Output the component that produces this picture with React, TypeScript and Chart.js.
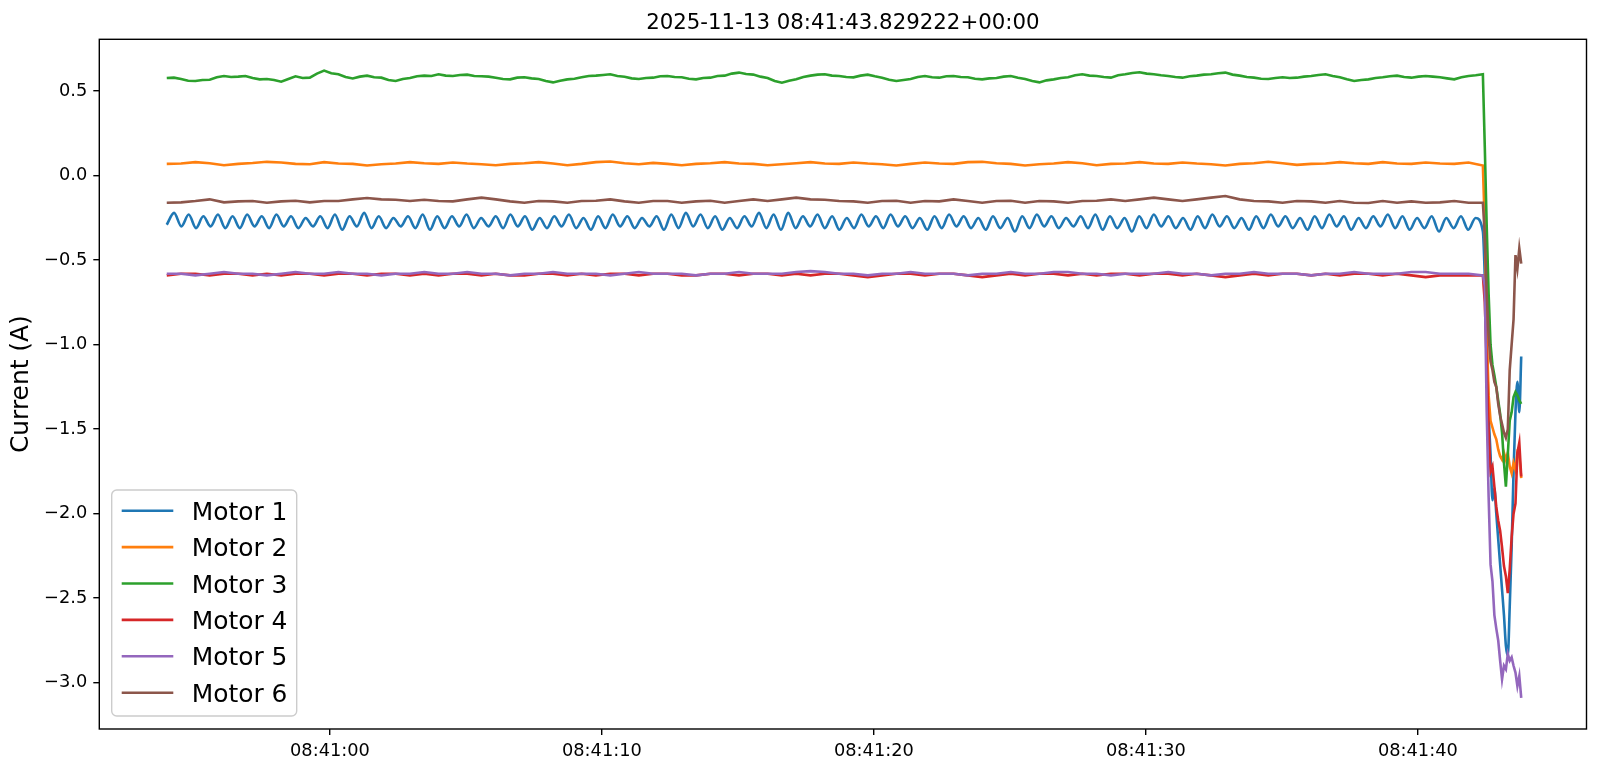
import React, { useEffect, useRef } from "react";
import { Chart, registerables } from "chart.js";

Chart.register(...registerables);

const TITLE = "2025-11-13 08:41:43.829222+00:00";
const Y_LABEL = "Current (A)";
const SERIES_NAMES = ["Motor 1", "Motor 2", "Motor 3", "Motor 4", "Motor 5", "Motor 6"];
const COLORS = ["#1f77b4", "#ff7f0e", "#2ca02c", "#d62728", "#9467bd", "#8c564b"];

// seconds after 08:40:00
const X_TICK_VALUES = [60, 70, 80, 90, 100];
const X_TICK_LABELS = ["08:41:00", "08:41:10", "08:41:20", "08:41:30", "08:41:40"];
const Y_TICK_VALUES = [-3.0, -2.5, -2.0, -1.5, -1.0, -0.5, 0.0, 0.5];
const X_MIN = 51.52;
const X_MAX = 106.2;
const Y_MIN = -3.274;
const Y_MAX = 0.807;

// sample clock: steady run from T_START until T_DROP, then the fast tail until T_END
const T_START = 54.0;
const T_DROP = 102.39;
const T_END = 103.8;

// Motor 1: alternating troughs / peaks of the oscillation
const motor1Steady = [
  -0.29, -0.22, -0.30, -0.23, -0.31, -0.24, -0.30, -0.23, -0.31, -0.24,
  -0.31, -0.23, -0.30, -0.24, -0.31, -0.23, -0.30, -0.24, -0.31, -0.25,
  -0.30, -0.24, -0.31, -0.23, -0.32, -0.24, -0.30, -0.22, -0.31, -0.24,
  -0.31, -0.25, -0.30, -0.24, -0.31, -0.23, -0.32, -0.24, -0.31, -0.24,
  -0.30, -0.23, -0.31, -0.25, -0.30, -0.24, -0.31, -0.23, -0.30, -0.24,
  -0.32, -0.25, -0.31, -0.24, -0.30, -0.23, -0.31, -0.25, -0.32, -0.24,
  -0.31, -0.23, -0.30, -0.24, -0.31, -0.25, -0.30, -0.24, -0.32, -0.23,
  -0.31, -0.22, -0.30, -0.23, -0.31, -0.24, -0.32, -0.25, -0.31, -0.24,
  -0.30, -0.22, -0.31, -0.23, -0.32, -0.22, -0.31, -0.24, -0.30, -0.23,
  -0.31, -0.24, -0.32, -0.25, -0.31, -0.23, -0.30, -0.24, -0.31, -0.23,
  -0.30, -0.24, -0.31, -0.25, -0.32, -0.24, -0.31, -0.23, -0.30, -0.24,
  -0.31, -0.25, -0.32, -0.24, -0.31, -0.25, -0.33, -0.24, -0.31, -0.23,
  -0.30, -0.24, -0.31, -0.25, -0.30, -0.24, -0.31, -0.23, -0.32, -0.24,
  -0.31, -0.25, -0.33, -0.24, -0.31, -0.23, -0.30, -0.24, -0.31, -0.25,
  -0.32, -0.24, -0.31, -0.23, -0.30, -0.24, -0.31, -0.25, -0.32, -0.24,
  -0.31, -0.23, -0.30, -0.24, -0.31, -0.25, -0.32, -0.24, -0.31, -0.23,
  -0.30, -0.24, -0.32, -0.25, -0.31, -0.24, -0.30, -0.23, -0.31, -0.24,
  -0.32, -0.25, -0.31, -0.24, -0.33, -0.25, -0.31, -0.24, -0.32, -0.25,
];
const motor1Tail = [
  -0.33, -0.60, -1.00, -1.40, -1.65, -1.92, -1.85, -2.00, -2.15, -2.30, -2.45,
  -2.60, -2.78, -2.84, -2.55, -2.20, -1.75, -1.40, -1.22, -1.40, -1.07,
];

const motor2Steady = [
  0.070, 0.072, 0.080, 0.074, 0.062, 0.070, 0.075, 0.082, 0.078, 0.070,
  0.068, 0.080, 0.072, 0.070, 0.060, 0.068, 0.072, 0.080, 0.074, 0.070,
  0.078, 0.072, 0.068, 0.062, 0.070, 0.074, 0.080, 0.072, 0.062, 0.070,
  0.080, 0.084, 0.074, 0.068, 0.076, 0.070, 0.062, 0.070, 0.074, 0.080,
  0.072, 0.070, 0.062, 0.068, 0.074, 0.080, 0.072, 0.070, 0.078, 0.072,
  0.068, 0.060, 0.070, 0.078, 0.072, 0.070, 0.080, 0.082, 0.074, 0.070,
  0.060, 0.068, 0.072, 0.080, 0.074, 0.062, 0.070, 0.072, 0.080, 0.072,
  0.070, 0.078, 0.072, 0.068, 0.060, 0.070, 0.074, 0.082, 0.074, 0.064,
  0.070, 0.072, 0.080, 0.074, 0.070, 0.080, 0.072, 0.070, 0.078, 0.072,
  0.070, 0.078,
];
const motor2Tail = [
  0.06, -0.30, -0.90, -1.30, -1.45, -1.49, -1.53, -1.56, -1.62, -1.66, -1.68,
  -1.64, -1.68, -1.64, -1.72, -1.76, -1.70, -1.74, -1.64, -1.66, -1.79,
];

const motor3Steady = [
  0.578, 0.580, 0.572, 0.562, 0.560, 0.566, 0.568, 0.582, 0.590, 0.584,
  0.586, 0.590, 0.578, 0.570, 0.572, 0.566, 0.556, 0.572, 0.588, 0.578,
  0.580, 0.604, 0.622, 0.606, 0.600, 0.584, 0.575, 0.586, 0.592, 0.582,
  0.580, 0.566, 0.560, 0.572, 0.578, 0.588, 0.592, 0.590, 0.600, 0.592,
  0.590, 0.596, 0.598, 0.590, 0.588, 0.586, 0.580, 0.572, 0.570, 0.580,
  0.582, 0.576, 0.572, 0.560, 0.552, 0.562, 0.570, 0.574, 0.582, 0.590,
  0.592, 0.596, 0.600, 0.590, 0.585, 0.576, 0.572, 0.578, 0.580, 0.588,
  0.590, 0.584, 0.582, 0.574, 0.570, 0.578, 0.580, 0.590, 0.592, 0.604,
  0.610, 0.602, 0.598, 0.586, 0.578, 0.560, 0.550, 0.562, 0.570, 0.584,
  0.592, 0.598, 0.600, 0.592, 0.590, 0.584, 0.582, 0.592, 0.598, 0.588,
  0.580, 0.568, 0.560, 0.566, 0.572, 0.584, 0.590, 0.582, 0.580, 0.588,
  0.590, 0.584, 0.582, 0.574, 0.570, 0.576, 0.578, 0.586, 0.590, 0.580,
  0.572, 0.560, 0.552, 0.564, 0.570, 0.578, 0.582, 0.594, 0.600, 0.592,
  0.590, 0.584, 0.580, 0.594, 0.600, 0.608, 0.612, 0.604, 0.600, 0.594,
  0.590, 0.584, 0.580, 0.588, 0.592, 0.598, 0.600, 0.606, 0.610, 0.598,
  0.592, 0.584, 0.580, 0.574, 0.572, 0.578, 0.582, 0.578, 0.580, 0.586,
  0.590, 0.596, 0.600, 0.590, 0.582, 0.570, 0.560, 0.566, 0.570, 0.578,
  0.582, 0.588, 0.592, 0.584, 0.580, 0.586, 0.590, 0.586, 0.582, 0.576,
  0.570, 0.582, 0.590, 0.594,
];
const motor3Tail = [
  0.60, 0.17, -0.30, -0.70, -1.00, -1.12, -1.18, -1.25, -1.33, -1.41, -1.52,
  -1.70, -1.84, -1.65, -1.45, -1.40, -1.31, -1.28, -1.30, -1.33, -1.35,
];

const motor4Steady = [
  -0.59, -0.58, -0.58, -0.59, -0.58, -0.58, -0.59, -0.58, -0.59, -0.58,
  -0.58, -0.59, -0.58, -0.58, -0.59, -0.58, -0.58, -0.59, -0.58, -0.59,
  -0.58, -0.58, -0.59, -0.58, -0.59, -0.59, -0.58, -0.58, -0.59, -0.58,
  -0.59, -0.58, -0.58, -0.59, -0.58, -0.58, -0.59, -0.59, -0.58, -0.58,
  -0.59, -0.58, -0.58, -0.59, -0.58, -0.59, -0.58, -0.58, -0.59, -0.60,
  -0.59, -0.58, -0.58, -0.59, -0.58, -0.58, -0.59, -0.60, -0.59, -0.58,
  -0.59, -0.58, -0.58, -0.59, -0.58, -0.59, -0.58, -0.58, -0.59, -0.58,
  -0.58, -0.59, -0.58, -0.59, -0.60, -0.59, -0.58, -0.59, -0.58, -0.58,
  -0.59, -0.58, -0.59, -0.58, -0.58, -0.59, -0.58, -0.59, -0.60, -0.59,
  -0.59, -0.59,
];
const motor4Tail = [
  -0.59, -0.75, -1.10, -1.50, -1.75, -1.72, -1.84, -1.96, -2.04, -2.10, -2.20,
  -2.31, -2.37, -2.47, -2.33, -2.14, -2.00, -1.94, -1.64, -1.58, -1.78,
];

const motor5Steady = [
  -0.58, -0.58, -0.59, -0.58, -0.57, -0.58, -0.58, -0.59, -0.58, -0.57,
  -0.58, -0.58, -0.57, -0.58, -0.58, -0.59, -0.58, -0.58, -0.57, -0.58,
  -0.58, -0.57, -0.58, -0.58, -0.59, -0.58, -0.58, -0.57, -0.58, -0.58,
  -0.58, -0.59, -0.58, -0.57, -0.58, -0.58, -0.58, -0.59, -0.58, -0.58,
  -0.57, -0.58, -0.58, -0.58, -0.57, -0.565, -0.57, -0.58, -0.58, -0.59,
  -0.58, -0.58, -0.57, -0.58, -0.58, -0.58, -0.59, -0.58, -0.58, -0.57,
  -0.58, -0.58, -0.57, -0.57, -0.58, -0.58, -0.59, -0.58, -0.58, -0.58,
  -0.57, -0.58, -0.58, -0.59, -0.58, -0.58, -0.57, -0.58, -0.58, -0.58,
  -0.59, -0.58, -0.58, -0.57, -0.58, -0.58, -0.58, -0.57, -0.57, -0.58,
  -0.58, -0.58,
];
const motor5Tail = [
  -0.59, -0.65, -1.40, -1.90, -2.30, -2.40, -2.60, -2.68, -2.75, -2.87, -2.98,
  -2.90, -2.92, -2.83, -2.87, -2.85, -2.90, -2.94, -3.02, -2.96, -3.09,
];

const motor6Steady = [
  -0.160, -0.158, -0.150, -0.140, -0.158, -0.152, -0.150, -0.160, -0.152, -0.148,
  -0.158, -0.150, -0.150, -0.140, -0.132, -0.140, -0.142, -0.150, -0.142, -0.150,
  -0.152, -0.140, -0.130, -0.140, -0.152, -0.160, -0.150, -0.152, -0.160, -0.150,
  -0.148, -0.140, -0.152, -0.160, -0.150, -0.150, -0.160, -0.152, -0.148, -0.160,
  -0.150, -0.140, -0.150, -0.140, -0.130, -0.140, -0.142, -0.150, -0.152, -0.160,
  -0.150, -0.148, -0.160, -0.150, -0.152, -0.140, -0.150, -0.160, -0.150, -0.148,
  -0.160, -0.150, -0.152, -0.160, -0.150, -0.148, -0.140, -0.150, -0.140, -0.130,
  -0.140, -0.150, -0.140, -0.130, -0.120, -0.140, -0.150, -0.152, -0.160, -0.150,
  -0.152, -0.160, -0.150, -0.160, -0.162, -0.150, -0.160, -0.152, -0.160, -0.158,
  -0.150, -0.160,
];
const motor6Tail = [
  -0.16, -0.35, -0.70, -0.95, -1.10, -1.15, -1.22, -1.25, -1.35, -1.42, -1.47,
  -1.52, -1.55, -1.50, -1.15, -1.00, -0.85, -0.47, -0.55, -0.43, -0.52,
];

const STEADY = [motor1Steady, motor2Steady, motor3Steady, motor4Steady, motor5Steady, motor6Steady];
const TAILS = [motor1Tail, motor2Tail, motor3Tail, motor4Tail, motor5Tail, motor6Tail];

function buildPoints(steady: number[], tail: number[]) {
  const pts: { x: number; y: number }[] = [];
  const ds = (T_DROP - T_START) / steady.length;
  steady.forEach((v, i) => pts.push({ x: T_START + i * ds, y: v }));
  const dt = (T_END - T_DROP) / (tail.length - 1);
  tail.forEach((v, i) => pts.push({ x: T_DROP + i * dt, y: v }));
  return pts;
}

const FONT = '"DejaVu Sans", "Liberation Sans", sans-serif';
const TICK_PX = 17.8;
const TITLE_PX = 21.3;
const BIG_PX = 24.9;

const decorPlugin = {
  id: "decor",
  beforeDraw(chart: any) {
    const { ctx, width, height } = chart;
    ctx.save();
    ctx.fillStyle = "#ffffff";
    ctx.fillRect(0, 0, width, height);
    ctx.restore();
  },
  afterDraw(chart: any) {
    const { ctx, chartArea: a } = chart;
    ctx.save();
    // spines
    ctx.strokeStyle = "#000000";
    ctx.lineWidth = 1.4;
    ctx.strokeRect(a.left, a.top, a.right - a.left, a.bottom - a.top);
    // title
    ctx.fillStyle = "#000000";
    ctx.font = `${TITLE_PX}px ${FONT}`;
    ctx.textAlign = "center";
    ctx.textBaseline = "alphabetic";
    ctx.fillText(TITLE, (a.left + a.right) / 2, a.top - 10.6);
    // y label
    ctx.save();
    ctx.translate(22, (a.top + a.bottom) / 2);
    ctx.rotate(-Math.PI / 2);
    ctx.font = `${BIG_PX}px ${FONT}`;
    ctx.textAlign = "center";
    ctx.textBaseline = "middle";
    ctx.fillText(Y_LABEL, 0, 0);
    ctx.restore();
    // legend
    const lx = a.left + 12.4;
    const ly = 490;
    const lw = 185;
    const lh = 226;
    const r = 5;
    ctx.beginPath();
    ctx.moveTo(lx + r, ly);
    ctx.lineTo(lx + lw - r, ly);
    ctx.arcTo(lx + lw, ly, lx + lw, ly + r, r);
    ctx.lineTo(lx + lw, ly + lh - r);
    ctx.arcTo(lx + lw, ly + lh, lx + lw - r, ly + lh, r);
    ctx.lineTo(lx + r, ly + lh);
    ctx.arcTo(lx, ly + lh, lx, ly + lh - r, r);
    ctx.lineTo(lx, ly + r);
    ctx.arcTo(lx, ly, lx + r, ly, r);
    ctx.closePath();
    ctx.fillStyle = "rgba(255,255,255,0.8)";
    ctx.fill();
    ctx.strokeStyle = "#cccccc";
    ctx.lineWidth = 1.4;
    ctx.stroke();
    ctx.font = `${BIG_PX}px ${FONT}`;
    ctx.textAlign = "left";
    ctx.textBaseline = "alphabetic";
    SERIES_NAMES.forEach((name, i) => {
      const cy = 510.7 + i * 36.4;
      ctx.strokeStyle = COLORS[i];
      ctx.lineWidth = 2.6;
      ctx.beginPath();
      ctx.moveTo(lx + 10, cy);
      ctx.lineTo(lx + 61.6, cy);
      ctx.stroke();
      ctx.fillStyle = "#000000";
      ctx.fillText(name, lx + 80, cy + 9);
    });
    ctx.restore();
  },
};

export default function App() {
  const ref = useRef<HTMLCanvasElement | null>(null);
  useEffect(() => {
    if (!ref.current) return;
    Chart.defaults.font.family = FONT;
    const datasets = SERIES_NAMES.map((name, i) => ({
      label: name,
      data: buildPoints(STEADY[i], TAILS[i]),
      borderColor: COLORS[i],
      backgroundColor: COLORS[i],
      borderWidth: 2.6,
      pointRadius: 0,
      pointHoverRadius: 0,
      fill: false,
      tension: 0,
      cubicInterpolationMode: i === 0 ? ("monotone" as const) : ("default" as const),
      order: SERIES_NAMES.length - 1 - i,
    }));
    const chart = new Chart(ref.current, {
      type: "line",
      data: { datasets },
      plugins: [decorPlugin],
      options: {
        animation: false,
        responsive: false,
        maintainAspectRatio: false,
        devicePixelRatio: 1,
        layout: { padding: { left: 0, top: 39.3, right: 13.5, bottom: 0 } },
        plugins: {
          legend: { display: false },
          title: { display: false },
          tooltip: { enabled: false },
        },
        scales: {
          x: {
            type: "linear",
            min: X_MIN,
            max: X_MAX,
            afterBuildTicks: (scale: any) => {
              scale.ticks = X_TICK_VALUES.map((v) => ({ value: v }));
            },
            afterFit: (scale: any) => {
              scale.height = 43;
            },
            ticks: {
              autoSkip: false,
              maxRotation: 0,
              minRotation: 0,
              padding: 6,
              color: "#000000",
              font: { size: TICK_PX, family: FONT },
              callback: (v: any) => {
                const k = X_TICK_VALUES.indexOf(Number(v));
                return k >= 0 ? X_TICK_LABELS[k] : "";
              },
            },
            grid: {
              drawOnChartArea: false,
              drawTicks: true,
              tickLength: 6,
              color: "#000000",
              lineWidth: 1.4,
            },
            border: { display: false },
          },
          y: {
            type: "linear",
            min: Y_MIN,
            max: Y_MAX,
            afterBuildTicks: (scale: any) => {
              scale.ticks = Y_TICK_VALUES.map((v) => ({ value: v }));
            },
            afterFit: (scale: any) => {
              scale.width = 99.3;
            },
            ticks: {
              autoSkip: false,
              padding: 6,
              color: "#000000",
              font: { size: TICK_PX, family: FONT },
              callback: (v: any) => Number(v).toFixed(1).replace("-", "\u2212"),
            },
            grid: {
              drawOnChartArea: false,
              drawTicks: true,
              tickLength: 6,
              color: "#000000",
              lineWidth: 1.4,
            },
            border: { display: false },
          },
        },
      },
    });
    return () => chart.destroy();
  }, []);
  return (
    <div style={{ position: "absolute", left: 0, top: 0, width: 1600, height: 772, background: "#fff" }}>
      <canvas ref={ref} width={1600} height={772} style={{ display: "block", width: 1600, height: 772 }} />
    </div>
  );
}
